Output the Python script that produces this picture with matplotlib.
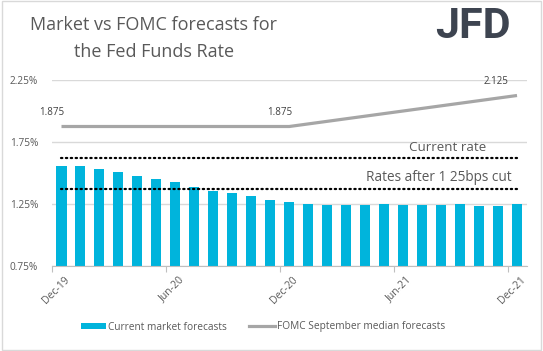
import matplotlib
matplotlib.use("Agg")
import matplotlib.pyplot as plt
import matplotlib.transforms as mtransforms
import numpy as np
from matplotlib.patches import Patch, Rectangle
from matplotlib.lines import Line2D

plt.rcParams["font.family"] = ["Open Sans", "DejaVu Sans"]

# monthly market-implied rate, Dec-19 .. Dec-21 (%)
months = ["Dec-19", "Jan-20", "Feb-20", "Mar-20", "Apr-20", "May-20", "Jun-20",
          "Jul-20", "Aug-20", "Sep-20", "Oct-20", "Nov-20", "Dec-20",
          "Jan-21", "Feb-21", "Mar-21", "Apr-21", "May-21", "Jun-21",
          "Jul-21", "Aug-21", "Sep-21", "Oct-21", "Nov-21", "Dec-21"]
market = [1.553, 1.553, 1.529, 1.512, 1.472, 1.448, 1.426, 1.391, 1.358, 1.342,
          1.318, 1.285, 1.269, 1.253, 1.245, 1.245, 1.245, 1.253, 1.245, 1.245,
          1.245, 1.253, 1.237, 1.237, 1.253]

# FOMC September median projections (year-end points)
fomc_months = ["Dec-19", "Dec-20", "Dec-21"]
fomc_values = [1.875, 1.875, 2.125]
fomc_labels = ["1.875", "1.875", "2.125"]

current_rate = 1.625
after_cut = 1.375

tick_labels = ["Dec-19", "Jun-20", "Dec-20", "Jun-21", "Dec-21"]
yticks = [0.75, 1.25, 1.75, 2.25]

BLUE = "#00b4dc"
GREY = "#a6a6a6"
TXT = "#595959"

fig = plt.figure(figsize=(5.43, 3.51), dpi=100)
fig.patches.append(Rectangle((0.004, 0.004), 0.992, 0.992, transform=fig.transFigure,
                             fill=False, edgecolor="#d9d9d9", lw=1.0))
ax = fig.add_axes([52 / 543, 1 - 266 / 351, 474.5 / 543, 186 / 351])

x = np.arange(len(months))
ax.bar(x, market, width=0.53, bottom=0, color=BLUE, zorder=2)

fx = [months.index(m) for m in fomc_months]
ax.plot(fx, fomc_values, color=GREY, lw=2.3, solid_capstyle="butt", zorder=3)
offsets = [(-7, 6), (-7, 6), (-15, 6)]
for xi, v, lab, off in zip(fx, fomc_values, fomc_labels, offsets):
    ax.annotate(lab, (xi, v), xytext=off, textcoords="offset points",
                ha="center", va="bottom", fontsize=7, color="#404040")

ax.plot([0, len(months) - 1], [current_rate] * 2, color="black", lw=1.6,
        linestyle=(0, (0.6, 1.6)), dash_capstyle="round", zorder=4)
ax.plot([0, len(months) - 1], [after_cut] * 2, color="black", lw=1.6,
        linestyle=(0, (0.6, 1.6)), dash_capstyle="round", zorder=4)
ax.text(22.4, current_rate + 0.03, "Current rate", ha="right", va="bottom",
        fontsize=9.6, color=TXT)
ax.text(23.7, after_cut + 0.03, "Rates after 1 25bps cut", ha="right", va="bottom",
        fontsize=9.8, color=TXT)

ax.set_xlim(-0.5, len(months) - 0.5)
ax.set_ylim(0.75, 2.25)
ax.set_yticks(yticks)
ax.set_yticklabels([f"{v:.2f}%" for v in yticks])
ax.yaxis.grid(True, color="#d9d9d9", lw=1.0, zorder=0)
ax.tick_params(axis="y", length=0, labelsize=7.3, labelcolor=TXT, pad=10)

ax.set_xticks([months.index(m) - 0.5 for m in tick_labels])
ax.set_xticklabels(tick_labels, rotation=45, ha="right", rotation_mode="anchor")
ax.tick_params(axis="x", length=4, color="#bfbfbf", labelsize=7.5, labelcolor=TXT, pad=2)
shift = mtransforms.ScaledTranslation(9 / 72, 0, fig.dpi_scale_trans)
for lbl in ax.get_xticklabels():
    lbl.set_transform(lbl.get_transform() + shift)

for s in ["top", "right", "left"]:
    ax.spines[s].set_visible(False)
ax.spines["bottom"].set_color("#bfbfbf")

fig.text(154 / 543, 1 - 25 / 351, "Market vs FOMC forecasts for", ha="center",
         va="center", fontsize=13, color=TXT)
fig.text(154 / 543, 1 - 52 / 351, "the Fed Funds Rate", ha="center",
         va="center", fontsize=13, color=TXT)
fig.text(473 / 543, 1 - 27 / 351, "JFD", ha="center", va="center", fontsize=31,
         fontweight="bold", color="#3d4450", family="Roboto")

handles = [Patch(facecolor=BLUE, edgecolor="none"),
           Line2D([0], [0], color=GREY, lw=2.3)]
fig.legend(handles, ["Current market forecasts", "FOMC September median forecasts"],
           loc="center", bbox_to_anchor=(263 / 543, 1 - 327 / 351), ncol=2,
           frameon=False, fontsize=7.3, labelcolor=TXT, handlelength=2.5,
           handleheight=0.6, handletextpad=0.2, columnspacing=2.2)

fig.savefig("out.png", dpi=100)
